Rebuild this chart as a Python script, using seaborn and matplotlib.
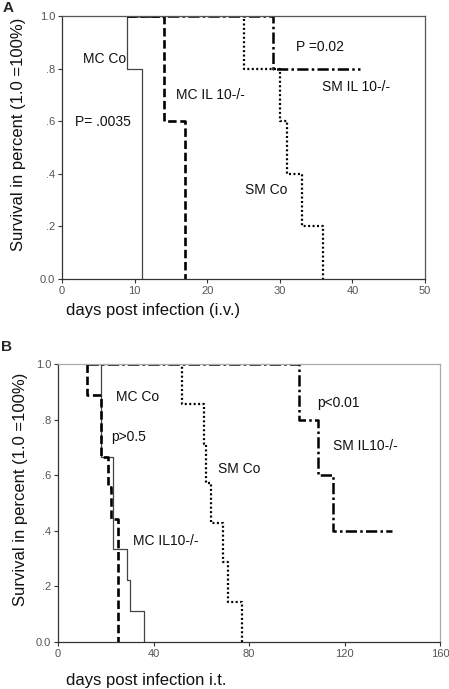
"""
Kaplan-Meier style survival curves, two panels (i.v. and i.t. infection)
"""

import pandas as pd
import numpy as np
import matplotlib
matplotlib.use('Agg')
import matplotlib.pyplot as plt
import seaborn as sns

# ---- data: panel A (i.v.) ----
a_mc_co_days = [9, 9, 11]
a_mc_co_surv = [1.0, 0.8, 0.0]
a_mc_il10_days = [9, 14, 17]
a_mc_il10_surv = [1.0, 0.6, 0.0]
a_sm_co_days = [9, 25, 30, 31, 33, 36]
a_sm_co_surv = [1.0, 0.8, 0.6, 0.4, 0.2, 0.0]
a_sm_il10_days = [9, 29, 41]
a_sm_il10_surv = [1.0, 0.8, 0.8]

# ---- data: panel B (i.t.) ----
b_mc_co_days = [12, 18, 23, 29, 30, 36]
b_mc_co_surv = [1.0, 0.667, 0.333, 0.222, 0.111, 0.0]
b_mc_il10_days = [12, 12, 18, 21, 22, 25]
b_mc_il10_surv = [1.0, 0.889, 0.667, 0.556, 0.444, 0.0]
b_sm_co_days = [12, 52, 61, 62, 64, 69, 71, 77]
b_sm_co_surv = [1.0, 0.857, 0.714, 0.571, 0.429, 0.286, 0.143, 0.0]
b_sm_il10_days = [12, 101, 109, 115, 140]
b_sm_il10_surv = [1.0, 0.8, 0.6, 0.4, 0.4]

y_ticks = [0.0, 0.2, 0.4, 0.6, 0.8, 1.0]
y_tick_labels = ['0.0', '.2', '.4', '.6', '.8', '1.0']
a_x_ticks = [0, 10, 20, 30, 40, 50]
b_x_ticks = [0, 40, 80, 120, 160]

sns.set_style('white')
plt.rcParams['font.family'] = ['Liberation Sans', 'DejaVu Sans']

# line styles per group
STYLES = {
    'mc_co': dict(color='#444444', linewidth=0.9, linestyle='-'),
    'mc_il10': dict(color='black', linewidth=1.9, linestyle=(0, (3.2, 1.4))),
    'sm_co': dict(color='black', linewidth=1.6, linestyle=(0, (0.9, 1.1))),
    'sm_il10': dict(color='black', linewidth=1.8, linestyle=(0, (4.5, 1.3, 1.0, 1.3))),
}


def draw_curve(ax, days, surv, key):
    df = pd.DataFrame({'days': days, 'surv': surv})
    sns.lineplot(data=df, x='days', y='surv', ax=ax, estimator=None, sort=False,
                 errorbar=None, drawstyle='steps-post', **STYLES[key])


def style_axes(ax, xmax, xticks, light_frame):
    ax.set_xlim(0, xmax)
    ax.set_ylim(0, 1.0)
    ax.set_xticks(xticks)
    ax.set_xticklabels([str(t) for t in xticks])
    ax.set_yticks(y_ticks)
    ax.set_yticklabels(y_tick_labels)
    ax.set_xlabel('')
    ax.set_ylabel('')
    ax.tick_params(axis='both', direction='out', length=3, width=0.8,
                   labelsize=8, labelcolor='#555555', color='#333333',
                   bottom=True, left=True, pad=2)
    for side in ['left', 'bottom']:
        ax.spines[side].set_color('#333333')
        ax.spines[side].set_linewidth(0.9)
    for side in ['top', 'right']:
        ax.spines[side].set_color('#aaaaaa' if light_frame else '#555555')
        ax.spines[side].set_linewidth(0.9)


W, H = 449, 689
fig = plt.figure(figsize=(W / 100, H / 100), dpi=100)

# ---- panel A ----
axA = fig.add_axes([62 / W, 1 - 279 / H, 363 / W, 263 / H])
draw_curve(axA, a_mc_co_days, a_mc_co_surv, 'mc_co')
draw_curve(axA, a_sm_co_days, a_sm_co_surv, 'sm_co')
draw_curve(axA, a_mc_il10_days, a_mc_il10_surv, 'mc_il10')
draw_curve(axA, a_sm_il10_days, a_sm_il10_surv, 'sm_il10')
style_axes(axA, 50, a_x_ticks, light_frame=False)

txt = dict(fontsize=10, va='center', ha='left', color='#111111')
axA.text(2.9, 0.836, 'MC Co', **txt)
axA.text(1.8, 0.597, 'P= .0035', **txt)
axA.text(15.7, 0.70, 'MC IL 10-/-', **txt)
axA.text(32.2, 0.882, 'P =0.02', **txt)
axA.text(35.8, 0.73, 'SM IL 10-/-', **txt)
axA.text(25.2, 0.338, 'SM Co', **txt)

# ---- panel B ----
axB = fig.add_axes([58 / W, 1 - 642 / H, 382 / W, 278 / H])
draw_curve(axB, b_mc_co_days, b_mc_co_surv, 'mc_co')
draw_curve(axB, b_sm_co_days, b_sm_co_surv, 'sm_co')
draw_curve(axB, b_mc_il10_days, b_mc_il10_surv, 'mc_il10')
draw_curve(axB, b_sm_il10_days, b_sm_il10_surv, 'sm_il10')
style_axes(axB, 160, b_x_ticks, light_frame=True)

axB.text(24.3, 0.88, 'MC Co', **txt)
axB.text(22.3, 0.738, 'p>0.5', **txt)
axB.text(67.1, 0.621, 'SM Co', **txt)
axB.text(108.6, 0.859, 'p<0.01', **txt)
axB.text(115.3, 0.705, 'SM IL10-/-', **txt)
axB.text(31.5, 0.363, 'MC IL10-/-', **txt)

# ---- figure-level labels ----
lab = dict(fontsize=12, color='#111111')
fig.text(3 / W, 1 - 8 / H, 'A', fontsize=11, fontweight='bold', va='center', ha='left')
fig.text(1 / W, 1 - 347 / H, 'B', fontsize=11, fontweight='bold', va='center', ha='left')
fig.text(19 / W, 1 - 134 / H, 'Survival in percent (1.0 =100%)', rotation=90,
         va='center', ha='center', **lab)
fig.text(21 / W, 1 - 489 / H, 'Survival in percent (1.0 =100%)', rotation=90,
         va='center', ha='center', **lab)
fig.text(66 / W, 1 - 310 / H, 'days post infection (i.v.)', va='center', ha='left', **lab)
fig.text(66 / W, 1 - 680 / H, 'days post infection i.t.', va='center', ha='left', **lab)

fig.savefig('out.png', dpi=100)
